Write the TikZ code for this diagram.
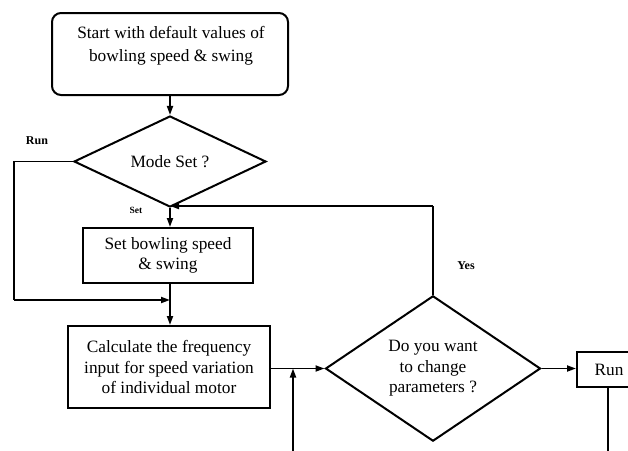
\documentclass[tikz,border=0pt]{standalone}
\usepackage{fontspec}
\setmainfont{Liberation Serif}
\usetikzlibrary{shapes.geometric,arrows.meta}
\begin{document}
\begin{tikzpicture}[x=1pt,y=-1pt,
  line width=1.8pt,
  txt/.style={align=center, inner sep=0pt, font=\fontsize{17.3}{20.5}\selectfont},
  boxshape/.style={draw, line width=2pt, inner sep=0pt, align=center, font=\fontsize{17.3}{20.5}\selectfont},
  dia/.style={draw, diamond, line width=2pt, inner sep=0pt, align=center, font=\fontsize{17.3}{20.5}\selectfont},
  lbl/.style={inner sep=0pt, font=\fontsize{12}{14}\selectfont\bfseries},
  arr/.style={-{Triangle[length=9pt,width=6pt]}, line width=1.8pt}
]
\useasboundingbox (0,0) rectangle (628,450);
\clip (0,0) rectangle (628,450);
\fill[white] (0,0) rectangle (628,450);

% nodes
\node[boxshape, rounded corners=9pt, minimum width=236pt, minimum height=82pt] (start) at (170,54) {};
\node[txt, font=\fontsize{17.3}{23}\selectfont] (starttxt) at (171,46) {Start with default values of\\bowling speed \& swing};
\node[dia, minimum width=192pt, minimum height=65pt] (mode) at (170,161.5) {Mode Set ?};
\node[boxshape, minimum width=170pt, minimum height=55pt] (set) at (168,255.5) {Set bowling speed\\\& swing};
\node[boxshape, minimum width=202pt, minimum height=82pt] (calc) at (169,367) {Calculate the frequency\\input for speed variation\\of individual motor};
\node[dia, minimum width=215pt, minimum height=137pt] (param) at (433,368.5) {Do you want\\to change\\parameters ?};
\node[boxshape, minimum width=64pt, minimum height=35pt] (run) at (609,369.5) {Run};

% labels
\node[lbl] (lrun) at (37,141) {Run};
\node[lbl, font=\fontsize{9.5}{11}\selectfont\bfseries] (lset) at (136,210) {Set};
\node[lbl] (lyes) at (466,266) {Yes};

% coordinates for bends
\coordinate (m1) at (14,161.5);
\coordinate (m2) at (14,300);
\coordinate (m3) at (170,300);
\coordinate (y1) at (433,206);
\coordinate (y2) at (170,206);
\coordinate (b1) at (608,475);
\coordinate (b2) at (293,475);
\coordinate (b3) at (293,368.5);

% connectors
\draw[arr] (start.south -| mode.north) -- (mode.north);
\draw[arr] (mode.south) -- (mode.south |- set.north);
\draw[arr] (set.south -| mode.south) -- (mode.south |- calc.north);
\draw (mode.west) -- (m1) -- (m2);
\draw[arr] (m2) -- (m3);
\draw (param.north) -- (y1);
\draw[arr] (y1) -- (y2);
\draw[arr] (calc.east |- param.west) -- (param.west);
\draw[arr] (param.east) -- (run.west |- param.east);
\draw (run.south -| b1) -- (b1) -- (b2);
\draw[arr] (b2) -- (b3);
\end{tikzpicture}
\end{document}
